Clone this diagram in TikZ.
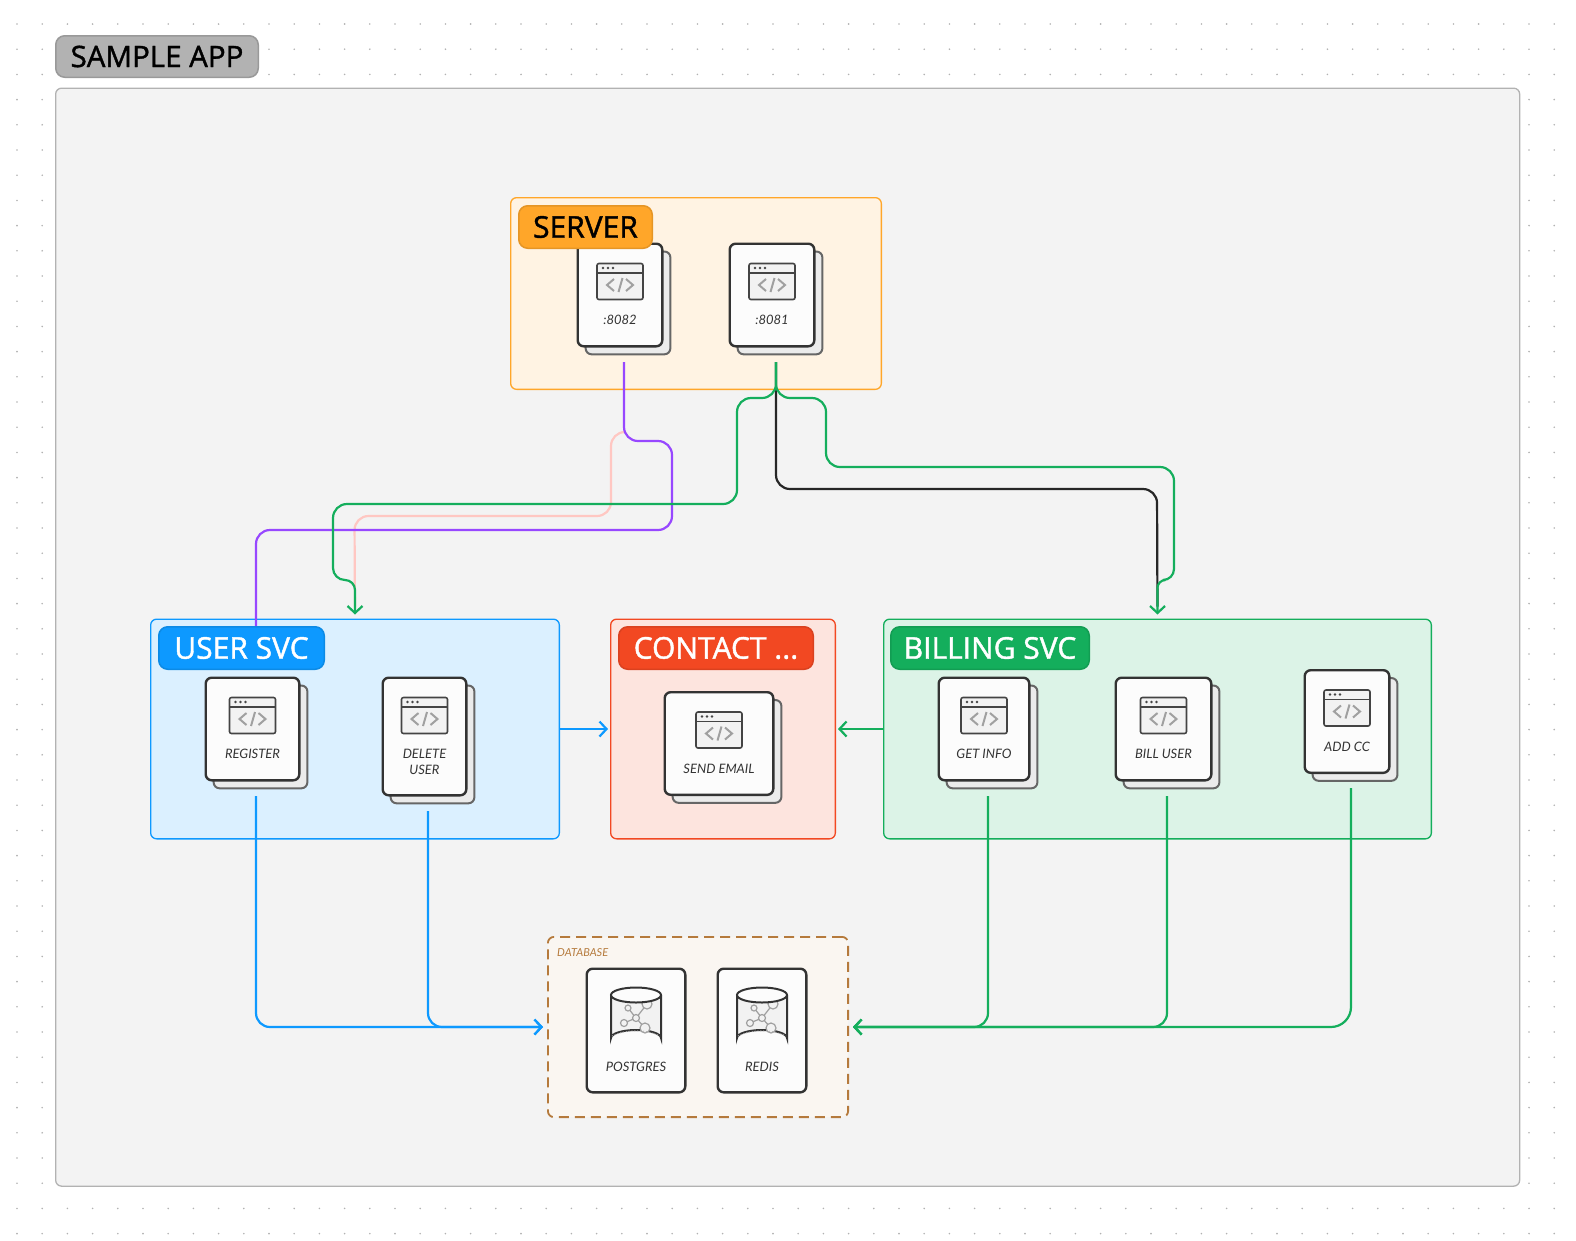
\documentclass[tikz,border=0pt]{standalone}
\usepackage{fontspec}
\setmainfont{Open Sans}
\newfontfamily\tagfont[FakeBold=1.4]{Open Sans}
\newfontfamily\cardfont{Lato}
\usetikzlibrary{positioning, arrows.meta}

\definecolor{cardline}{HTML}{333333}
\definecolor{iconline}{HTML}{444444}
\definecolor{glyphgray}{HTML}{A0A0A0}
\definecolor{framefill}{HTML}{F3F3F3}
\definecolor{svcblue}{HTML}{0D99FF}
\definecolor{svcgreen}{HTML}{14AE5C}
\definecolor{svcred}{HTML}{F24822}
\definecolor{svcorange}{HTML}{FFA629}
\definecolor{linkpurple}{HTML}{9747FF}
\definecolor{linkpink}{HTML}{FFC7C2}
\definecolor{dbbrown}{HTML}{B57A3C}

\tikzset{
    groupbox/.style={draw, rectangle, rounded corners=6pt, line width=1.3pt, inner sep=0pt, anchor=north west},
    tagbox/.style={draw, rectangle, rounded corners=9pt, line width=1.5pt, inner sep=0pt, font=\tagfont\fontsize{30}{30}\selectfont},
    backcard/.style={draw=black!60, fill=black!8, rectangle, rounded corners=6pt, line width=2pt, inner sep=0pt, anchor=north},
    frontcard/.style={draw=cardline, fill=black!1, rectangle, rounded corners=6pt, line width=2.4pt, inner sep=0pt, anchor=north},
    cardlabel/.style={anchor=north, align=center, inner sep=0pt, text=black!80, font=\cardfont\itshape\fontsize{13}{16}\selectfont},
    link/.style={->, line width=2.2pt, rounded corners=14pt, -{Straight Barb[length=7pt, width=15pt, line width=2.2pt]}},
    plainlink/.style={line width=2.2pt, rounded corners=14pt}
}

% service card: name, centre x of front sheet, top y, width, height, label
\newcommand{\appcard}[6]{
    \node[backcard, minimum width=#4pt-1.2pt, minimum height=#5pt-1.2pt] (#1back) at (#2+8,#3+7.5) {};
    \node[frontcard, minimum width=#4pt-1.4pt, minimum height=#5pt-1.4pt] (#1) at (#2,#3-0.5) {};
    \begin{scope}[shift={(#2,#3)}]
        \draw[iconline, fill=black!5, line width=1.6pt, rounded corners=2pt] (-23,20.5) rectangle (23,56.5);
        \draw[iconline, line width=1.6pt] (-23,30) -- (23,30);
        \foreach \dotx in {-17,-12,-7} \fill[iconline] (\dotx,25) circle (1.3);
        \draw[glyphgray, line width=2pt] (-6,36) -- (-13,42) -- (-6,48) (6,36) -- (13,42) -- (6,48) (-1.5,49) -- (2.5,35);
    \end{scope}
    \node[cardlabel] (#1label) at (#2,#3+72) {#6};
}

% database card: name, centre x, top y, width, height, label
\newcommand{\dbcard}[6]{
    \node[frontcard, minimum width=#4pt-1.4pt, minimum height=#5pt-1.4pt] (#1) at (#2,#3-0.5) {};
    \begin{scope}[shift={(#2,#3)}]
        \draw[cardline, fill=black!5, line width=2pt] (-25,27) -- (-25,70) arc[start angle=180, end angle=360, x radius=25, y radius=8] -- (25,27);
        \draw[glyphgray, line width=1.2pt] (0,50) -- (-8,40) (0,50) -- (11,36) (0,50) -- (-12,55) (0,50) -- (9,60);
        \draw[glyphgray, fill=black!5, line width=1.2pt] (0,50) circle (3.5) (-8,40) circle (3) (11,36) circle (5) (-12,55) circle (3.5) (9,60) circle (5);
        \draw[black!30, dotted, line width=0.9pt] (-24,68) .. controls (-10,61) and (10,61) .. (24,68);
        \draw[cardline, fill=black!1, line width=2pt] (0,27) ellipse [x radius=25, y radius=7.5];
    \end{scope}
    \node[cardlabel] (#1label) at (#2,#3+94) {#6};
}

\begin{document}
\begin{tikzpicture}[x=1pt, y=-1pt]
    \useasboundingbox (0,0) rectangle (1576,1240);

    % Dot grid
    \foreach \gridx in {0,...,62}
        \foreach \gridy in {0,...,48}
            \fill[black!30] (17+25.2*\gridx,24+25.2*\gridy) circle (0.9);

    % Application frame
    \node[groupbox, draw=black!30, fill=framefill, minimum width=1464pt, minimum height=1098pt] (app) at (55,87.5) {};
    \node[tagbox, draw=black!40, fill=black!30, minimum width=202.5pt, minimum height=41.5pt, anchor=north west, font=\tagfont\fontsize{29.5}{30}\selectfont] (apptag) at (55,35) {SAMPLE APP};

    % Groups
    \node[groupbox, draw=svcorange, fill=svcorange!13, minimum width=370.7pt, minimum height=191.7pt] (server) at (510,197) {};
    \node[groupbox, draw=svcblue, fill=svcblue!15, minimum width=408.7pt, minimum height=219.7pt] (usersvc) at (150,618.5) {};
    \node[groupbox, draw=svcred, fill=svcred!15, minimum width=224.7pt, minimum height=219.7pt] (contact) at (610,618.5) {};
    \node[groupbox, draw=svcgreen, fill=svcgreen!15, minimum width=547.7pt, minimum height=219.7pt] (billing) at (883,618.5) {};
    \node[groupbox, draw=dbbrown, fill=dbbrown!7, line width=1.8pt, dash pattern=on 10pt off 6pt, minimum width=300.2pt, minimum height=180.2pt] (database) at (547,936) {};
    \node[anchor=west, inner sep=0pt, text=dbbrown, font=\cardfont\itshape\fontsize{11}{12}\selectfont, right=10pt of database.north west, yshift=-17pt] (dblabel) {DATABASE};

    % Free ends of the links
    \coordinate (outsrvtwo) at (624,362);
    \coordinate (outsrvone) at (776,362);
    \coordinate (outregister) at (256,796);
    \coordinate (outdelete) at (428,811);
    \coordinate (outinfo) at (988,796);
    \coordinate (outbill) at (1167,796);
    \coordinate (outaddcc) at (1351,788);
    \coordinate (inregister) at (256,666);
    \coordinate (inpink) at (624,432);

    % Links from server
    \draw[plainlink, draw=linkpink, shorten >=12pt] (inpink) -- (611,432) -- (611,516) -- (354.5,516) -- (usersvc.north);
    \draw[plainlink, draw=linkpurple] (outsrvtwo) -- (624,441) -- (672,441) -- (672,530) -- (256,530) -- (inregister);
    \draw[plainlink, draw=black!85, shorten >=12pt] (outsrvone) -- (776,489) -- (1157,489) -- (billing.north);
    \draw[link, draw=svcgreen, shorten >=4pt] (outsrvone) [rounded corners=14pt] -- (776,398) -- (737,398) -- (737,504) -- (333,504) [rounded corners=12pt] -- (333,580) [rounded corners=10pt] -- (usersvc.north |- 0,580) -- (usersvc.north);
    \draw[link, draw=svcgreen, shorten >=4pt] (outsrvone) [rounded corners=14pt] -- (776,398) -- (826,398) -- (826,467) -- (1174,467) [rounded corners=11pt] -- (1174,580) [rounded corners=8pt] -- (billing.north |- 0,580) -- (billing.north);

    % Links to contact
    \draw[link, draw=svcblue, shorten >=2pt] (usersvc) -- (contact);
    \draw[link, draw=svcgreen, shorten >=2pt] (billing) -- (contact);

    % Links to database
    \draw[link, draw=svcblue, shorten >=4pt] (outregister) |- (database.west);
    \draw[link, draw=svcblue, shorten >=4pt] (outdelete) |- (database.west);
    \draw[link, draw=svcgreen, shorten >=4pt] (outinfo) |- (database.east);
    \draw[link, draw=svcgreen, shorten >=4pt] (outbill) |- (database.east);
    \draw[link, draw=svcgreen, shorten >=4pt, rounded corners=20pt] (outaddcc) |- (database.east);

    % Cards
    \appcard{srvtwo}{620}{243}{86}{104}{:8082}
    \appcard{srvone}{772}{243}{86}{104}{:8081}
    \appcard{register}{252.5}{677}{95}{104}{REGISTER}
    \appcard{deleteuser}{424.5}{677}{85}{119}{DELETE\\USER}
    \appcard{sendemail}{719}{691.5}{110}{104}{SEND EMAIL}
    \appcard{getinfo}{984}{677}{92}{104}{GET INFO}
    \appcard{billuser}{1163.5}{677}{97}{104}{BILL USER}
    \appcard{addcc}{1347}{669.5}{86}{104}{ADD CC}
    \dbcard{postgres}{636}{968}{100}{125}{POSTGRES}
    \dbcard{redis}{762}{968}{90}{125}{REDIS}

    % Group tags
    \node[tagbox, draw=svcorange!90!black, fill=svcorange, minimum width=133.5pt, minimum height=42.5pt, anchor=north west] (servertag) at (518,205) {SERVER};
    \node[tagbox, draw=svcblue!90!black, fill=svcblue, text=white, minimum width=165.5pt, minimum height=42.5pt, anchor=north west] (usertag) at (158,626) {USER SVC};
    \node[tagbox, draw=svcred!90!black, fill=svcred, text=white, minimum width=194.5pt, minimum height=42.5pt, anchor=north west] (contacttag) at (618,626) {CONTACT ...};
    \node[tagbox, draw=svcgreen!90!black, fill=svcgreen, text=white, minimum width=198.5pt, minimum height=42.5pt, anchor=north west] (billingtag) at (890,626) {BILLING SVC};
\end{tikzpicture}
\end{document}
